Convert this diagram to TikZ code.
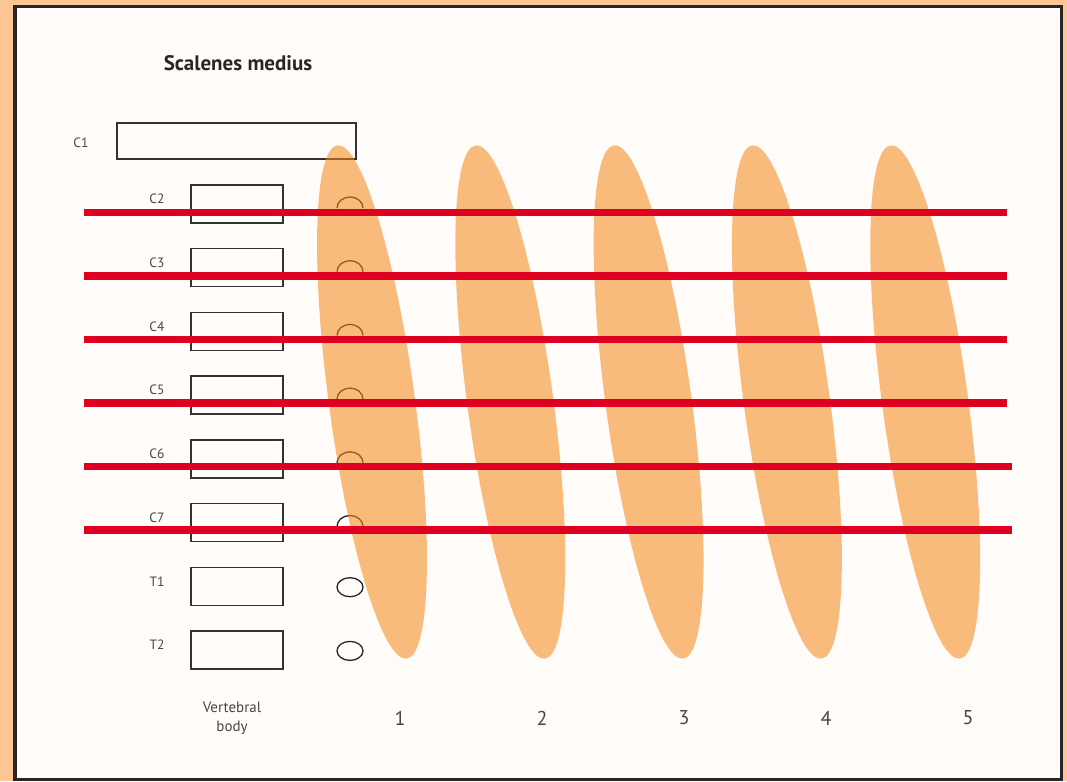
\documentclass[tikz,border=0pt]{standalone}
\usepackage{fontspec}
\setmainfont{PT Sans}
\usetikzlibrary{positioning, math}
\definecolor{frameorange}{RGB}{251,197,148}
\definecolor{panelwhite}{RGB}{255,252,249}
\definecolor{muscleorange}{RGB}{244,134,22}
\definecolor{nervered}{RGB}{221,0,32}
\definecolor{labelgray}{RGB}{70,70,70}

\begin{document}
\begin{tikzpicture}[x=1pt,y=-1pt,
  vbox/.style={draw=black!80, line width=1.4pt, minimum width=92pt, minimum height=38pt, inner sep=0pt},
  level/.style={text=labelgray, font=\fontsize{13.5}{16}\selectfont},
  nerve/.style={line width=7.5pt, color=nervered},
  muscle/.style={fill=muscleorange, fill opacity=0.55},
  foramen/.style={draw=black!85, line width=1.3pt},
  count/.style={text=labelgray, font=\fontsize{20}{22}\selectfont}]
\tikzmath{
\dy=63.7;
\yo=204;
\dm=138.3;
\dn=142;
}
\useasboundingbox (0,0) rectangle (1067,781);
%frame
\fill[frameorange] (0,0) rectangle (1067,781);
\draw[fill=panelwhite, line width=3.2pt, draw=black!85] (15,6.5) rectangle (1061.5,779.5);

\node[font=\bfseries\fontsize{21}{24}\selectfont, text=black!85] (title) at (238,63) {Scalenes medius};

%C1
\node[vbox, minimum width=239pt, minimum height=36pt] (vb1) at (236.5,141) {};
\node[level] (lv1) at (81,143) {C1};

%vertebral bodies
\foreach \name [count=\i from 0] in {C2,C3,C4,C5,C6,C7,T1,T2}{
  \node[vbox] (vb\name) at (237,\yo+\dy*\i) {};
  \node[level] (lv\name) at (157,\yo+\dy*\i-5) {\name};
}
%foramina
\foreach \i in {0,...,5}{
  \draw[foramen] (363,\yo+\dy*\i+4) arc[start angle=0, end angle=180, x radius=13pt, y radius=11pt];
}
\draw[foramen] (350,\yo+\dy*6+1) ellipse[x radius=13pt, y radius=9.5pt];
\draw[foramen] (350,\yo+\dy*7+1) ellipse[x radius=13pt, y radius=9.5pt];

%muscle slips
\foreach \k in {0,...,4}{
  \fill[muscle, rotate around={7.7:(372+\dm*\k,402)}] (372+\dm*\k,402) ellipse[x radius=43pt, y radius=259pt];
}

%nerves
\foreach \i/\xe in {0/1007,1/1007,2/1007,3/1007,4/1012,5/1012}{
  \coordinate (n\i a) at (84,\yo+8.5+63.5*\i);
  \coordinate (n\i b) at (\xe,\yo+8.5+63.5*\i);
  \draw[nerve] (n\i a) -- (n\i b);
}

%labels
\node[level, font=\fontsize{15}{19}\selectfont, align=center] (vbody) at (232,718) {Vertebral\\body};
\foreach \k in {1,...,5}{
  \node[count] (num\k) at (400+\dn*\k-\dn,718) {\k};
}
\end{tikzpicture}
\end{document}
